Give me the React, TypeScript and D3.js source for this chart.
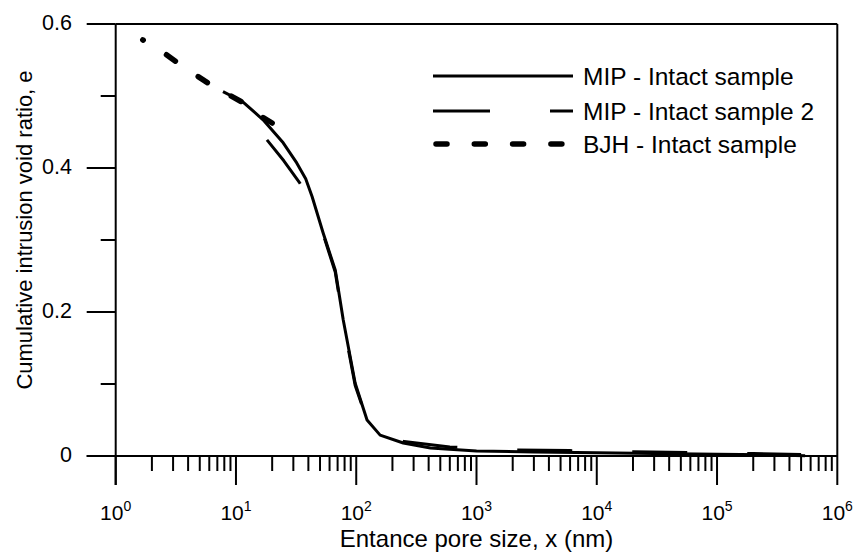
import React from "react";
import * as d3 from "d3";

// ---- data ----
const mipX = [7.8, 11.4, 16.8, 24.7, 32, 38, 43, 53, 67, 78, 98, 123, 158, 246, 414, 1000, 3000, 10000, 30000, 100000, 300000, 540000];
const mipE = [0.506, 0.492, 0.467, 0.435, 0.407, 0.385, 0.36, 0.31, 0.258, 0.189, 0.101, 0.05, 0.029, 0.018, 0.011, 0.007, 0.0055, 0.0045, 0.0035, 0.0025, 0.0015, 0.0005];

const mip2X = [18.1, 25, 34, 45, 55, 67, 78, 98, 123, 158, 250, 600, 2000, 6000, 20000, 60000, 200000, 500000];
const mip2E = [0.439, 0.41, 0.379, 0.34, 0.3, 0.255, 0.186, 0.098, 0.05, 0.03, 0.02, 0.0125, 0.0085, 0.0075, 0.0058, 0.0048, 0.0035, 0.002];

const bjhX = [1.68, 2.46, 3.16, 4.55, 5.85, 7.8, 11.4, 16.5, 20];
const bjhE = [0.578, 0.561, 0.548, 0.53, 0.518, 0.506, 0.491, 0.471, 0.4625];

const xMajor = [1, 10, 100, 1000, 10000, 100000, 1000000];
const xExp = ["0", "1", "2", "3", "4", "5", "6"];
const yMajor = [0, 0.2, 0.4, 0.6];
const yMajorLabels = ["0", "0.2", "0.4", "0.6"];
const yMinor = [0.1, 0.3, 0.5];

const legendLabels = ["MIP - Intact sample", "MIP - Intact sample 2", "BJH - Intact sample"];

const FONT = "Arial, 'Liberation Sans', Helvetica, sans-serif";

export default function App() {
  const W = 855, H = 554;
  const x = d3.scaleLog().domain([1, 1e6]).range([115.7, 837.3]);
  const y = d3.scaleLinear().domain([0, 0.6]).range([456, 24]);
  const line = d3
    .line<[number, number]>()
    .x((d) => x(d[0]))
    .y((d) => y(d[1]));

  const mip = mipX.map((v, i) => [v, mipE[i]] as [number, number]);
  const mip2 = mip2X.map((v, i) => [v, mip2E[i]] as [number, number]);
  const bjh = bjhX.map((v, i) => [v, bjhE[i]] as [number, number]);

  const xMinor: number[] = [];
  for (let d = 0; d < 6; d++) {
    for (let k = 2; k <= 9; k++) xMinor.push(k * Math.pow(10, d));
  }

  const x0 = x(1), x1 = x(1e6), y0 = y(0), y1 = y(0.6);
  const legY = [76, 111, 144];
  const legX0 = 433, legX1 = 573;

  return (
    <svg width={W} height={H} style={{ position: "absolute", left: 0, top: 0, background: "#fff" }} fontFamily={FONT}>
      <rect x={0} y={0} width={W} height={H} fill="#fff" />
      {/* frame */}
      <g stroke="#000" strokeWidth={2} fill="none">
        <line x1={x0} y1={y1} x2={x0} y2={y0 + 29} />
        <line x1={x0 - 29} y1={y0} x2={x1} y2={y0} />
        <line x1={x0} y1={y1} x2={x1} y2={y1} />
        <line x1={x1} y1={y1} x2={x1} y2={y0} />
        {xMajor.map((v, i) => (
          <line key={"xm" + i} x1={x(v)} x2={x(v)} y1={y0} y2={y0 + 29} />
        ))}
        {xMinor.map((v, i) => (
          <line key={"xn" + i} x1={x(v)} x2={x(v)} y1={y0} y2={y0 + 15} />
        ))}
        {yMajor.map((v, i) => (
          <line key={"ym" + i} x1={x0 - 29} x2={x0} y1={y(v)} y2={y(v)} />
        ))}
        {yMinor.map((v, i) => (
          <line key={"yn" + i} x1={x0 - 15} x2={x0} y1={y(v)} y2={y(v)} />
        ))}
      </g>
      {/* tick labels */}
      {xMajor.map((v, i) => (
        <text key={"xl" + i} x={x(v)} y={520} textAnchor="middle" fontSize={21} fill="#000">
          10<tspan dy={-9} fontSize={14}>{xExp[i]}</tspan>
        </text>
      ))}
      {yMajor.map((v, i) => (
        <text key={"yl" + i} x={72} y={y(v) + 5.5} textAnchor="end" fontSize={21.5} fill="#000">
          {yMajorLabels[i]}
        </text>
      ))}
      {/* axis titles */}
      <text x={476.5} y={547} textAnchor="middle" fontSize={24} fill="#000">
        Entance pore size, x (nm)
      </text>
      <text transform={`translate(32,230) rotate(-90)`} textAnchor="middle" fontSize={22} fill="#000">
        Cumulative intrusion void ratio, e
      </text>
      {/* curves */}
      <path d={line(mip) || ""} fill="none" stroke="#000" strokeWidth={3} strokeLinejoin="round" />
      <path d={line(mip2) || ""} fill="none" stroke="#000" strokeWidth={3} strokeDasharray="55 60" strokeLinejoin="round" />
      <path d={line(bjh) || ""} fill="none" stroke="#000" strokeWidth={5.5} strokeDasharray="11 27.5" strokeDashoffset={10.5} strokeLinecap="round" strokeLinejoin="round" />
      {/* legend */}
      <line x1={legX0} x2={legX1} y1={legY[0]} y2={legY[0]} stroke="#000" strokeWidth={3} />
      <line x1={legX0} x2={legX1} y1={legY[1]} y2={legY[1]} stroke="#000" strokeWidth={3} strokeDasharray="57 60" />
      <line x1={legX0 + 3} x2={legX1 - 3} y1={legY[2]} y2={legY[2]} stroke="#000" strokeWidth={5.5} strokeDasharray="11 27.3" strokeLinecap="round" />
      {legendLabels.map((t, i) => (
        <text key={"lg" + i} x={583} y={legY[i] + 8.5} fontSize={24.5} fill="#000">
          {t}
        </text>
      ))}
    </svg>
  );
}
